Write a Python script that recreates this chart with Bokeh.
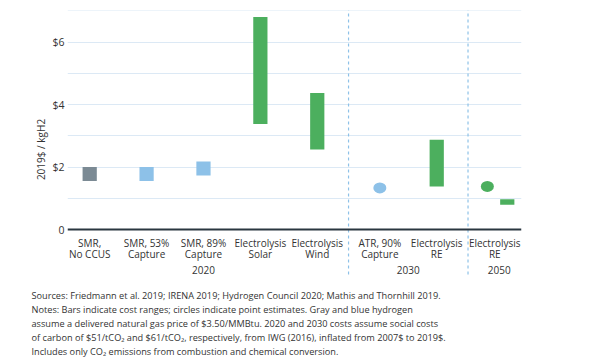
from bokeh.plotting import figure
from bokeh.models import (ColumnDataSource, FactorRange, Range1d, FixedTicker, Span, Title)
from bokeh.transform import dodge
from bokeh.core.properties import value
from bokeh.embed import file_html
from bokeh.resources import INLINE

# ---- data ----
years = ["2020", "2020", "2020", "2020", "2020", "2030", "2030", "2050"]
categories = ["SMR, No CCUS", "SMR, 53% Capture", "SMR, 89% Capture", "Electrolysis Solar",
              "Electrolysis Wind", "ATR, 90% Capture", "Electrolysis RE", "Electrolysis RE"]
cat_labels = ["SMR,\nNo CCUS", "SMR, 53%\nCapture", "SMR, 89%\nCapture", "Electrolysis\nSolar",
              "Electrolysis\nWind", "ATR, 90%\nCapture", "Electrolysis\nRE", "Electrolysis\nRE"]
year_labels = ["2020", "2030", "2050"]

bar_years = ["2020", "2020", "2020", "2020", "2020", "2030"]
bar_cats = ["SMR, No CCUS", "SMR, 53% Capture", "SMR, 89% Capture", "Electrolysis Solar",
            "Electrolysis Wind", "Electrolysis RE"]
bar_low = [1.55, 1.55, 1.73, 3.38, 2.56, 1.38]
bar_high = [2.0, 2.0, 2.18, 6.8, 4.37, 2.87]
bar_colors = ["#7b8a94", "#8dc1e8", "#8dc1e8", "#4caf5e", "#4caf5e", "#4caf5e"]

bar2050_low = [0.79]
bar2050_high = [0.97]

pt_years = ["2030"]
pt_cats = ["ATR, 90% Capture"]
pt_vals = [1.33]
pt_colors = ["#8dc1e8"]

pt2050_vals = [1.38]

y_ticks = [0, 2, 4, 6]
y_tick_labels = {0: "0", 2: "$2", 4: "$4", 6: "$6"}
grid_ticks = [1, 2, 3, 4, 5, 6, 7]
y_title = "2019$ / kgH2"

footer = [
    "Sources: Friedmann et al. 2019; IRENA 2019; Hydrogen Council 2020; Mathis and Thornhill 2019.",
    "Notes: Bars indicate cost ranges; circles indicate point estimates. Gray and blue hydrogen",
    "assume a delivered natural gas price of $3.50/MMBtu. 2020 and 2030 costs assume social costs",
    "of carbon of $51/tCO\u2082 and $61/tCO\u2082, respectively, from IWG (2016), inflated from 2007$ to 2019$.",
    "Includes only CO\u2082 emissions from combustion and chemical conversion.",
]

FONT = "Open Sans"
TXT = "#333333"
GROUP_PAD = 0.1
W, H = 600, 360
Y_MIN, Y_MAX = -1.888, 7.008
SEP_BOTTOM, SEP_TOP = -1.44, 7.2

factors = list(zip(years, categories))
x_range = FactorRange(*factors, group_padding=GROUP_PAD, range_padding=-0.0268)

p = figure(width=W, height=H, x_range=x_range, y_range=Range1d(Y_MIN, Y_MAX),
           output_backend="svg", toolbar_location=None,
           min_border_left=67, min_border_right=79, min_border_top=10, min_border_bottom=72)
p.outline_line_color = None
p.background_fill_color = "white"
p.border_fill_color = "white"

p.xaxis.visible = False
p.xgrid.visible = False
p.yaxis.ticker = FixedTicker(ticks=y_ticks)
p.yaxis.major_label_overrides = y_tick_labels
p.yaxis.axis_line_color = None
p.yaxis.major_tick_line_color = None
p.yaxis.minor_tick_line_color = None
p.yaxis.major_tick_out = 0
p.yaxis.major_tick_in = 0
p.yaxis.minor_tick_out = 0
p.yaxis.major_label_standoff = 3
p.yaxis.major_label_text_font = FONT
p.yaxis.major_label_text_font_size = "10.5px"
p.yaxis.major_label_text_color = TXT
p.ygrid.ticker = FixedTicker(ticks=grid_ticks)
p.ygrid.grid_line_color = "#dce9f5"
p.ygrid.grid_line_width = 1

# zero line
p.add_layout(Span(location=0, dimension="width", line_color="#2a3640", line_width=2))

# group separators (dashed, down through the category labels)
n2020 = years.count("2020")
n2030 = years.count("2030")
sep_x = [n2020 + GROUP_PAD / 2, n2020 + n2030 + GROUP_PAD * 1.5]
p.segment(x0=sep_x, x1=sep_x, y0=[SEP_BOTTOM] * 2, y1=[SEP_TOP] * 2,
          line_color="#8dc1e8", line_width=1.2, line_dash="3 3")

# bars
src = ColumnDataSource(dict(x=list(zip(bar_years, bar_cats)), low=bar_low, high=bar_high, c=bar_colors))
p.vbar(x="x", bottom="low", top="high", width=0.25, fill_color="c", line_color=None, source=src)

src50 = ColumnDataSource(dict(x=[("2050", "Electrolysis RE")], low=bar2050_low, high=bar2050_high))
p.vbar(x=dodge("x", 0.14, range=x_range), bottom="low", top="high", width=0.25,
       fill_color="#4caf5e", line_color=None, source=src50)

# points
psrc = ColumnDataSource(dict(x=list(zip(pt_years, pt_cats)), y=pt_vals, c=pt_colors))
p.ellipse(x="x", y="y", width=13, height=11, width_units="screen", height_units="screen",
          fill_color="c", line_color=None, source=psrc)
psrc50 = ColumnDataSource(dict(x=[("2050", "Electrolysis RE")], y=pt2050_vals))
p.ellipse(x=dodge("x", -0.21, range=x_range), y="y", width=13, height=11,
          width_units="screen", height_units="screen",
          fill_color="#4caf5e", line_color=None, source=psrc50)

# category labels (last one nudged left so it stays inside the frame)
lsrc = ColumnDataSource(dict(x=factors[:-1], t=cat_labels[:-1]))
p.text(x="x", y=-0.22, text="t", source=lsrc, text_align="center", text_baseline="top",
       text_font=value(FONT), text_font_size="10px", text_color=TXT, text_line_height=0.75)
lsrc50 = ColumnDataSource(dict(x=factors[-1:], t=cat_labels[-1:]))
p.text(x=dodge("x", -0.08, range=x_range), y=-0.22, text="t", source=lsrc50, text_align="center",
       text_baseline="top", text_font=value(FONT), text_font_size="10px", text_color=TXT,
       text_line_height=0.75)
ysrc = ColumnDataSource(dict(x=year_labels, t=year_labels))
p.text(x="x", y=-1.28, text="t", source=ysrc, text_align="center", text_baseline="middle",
       text_font=value(FONT), text_font_size="10px", text_color=TXT)

# y axis title (left panel)
p.add_layout(Title(text=y_title, align="center", offset=22, standoff=3, text_font=FONT,
                   text_font_size="10px", text_font_style="normal", text_color=TXT), "left")

# footer (below panel)
p.add_layout(Title(text="\n".join(footer), align="left", offset=-36, standoff=0,
                   vertical_align="top", text_font=FONT,
                   text_font_size="9.2px", text_font_style="normal", text_color=TXT,
                   text_line_height=1.08), "below")

open("out.html", "w").write(file_html(p, INLINE))
